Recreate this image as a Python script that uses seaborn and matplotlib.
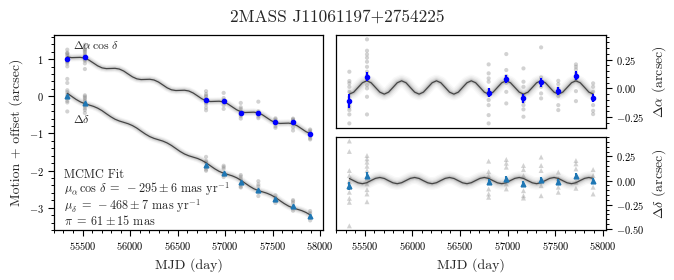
import numpy as np
import pandas as pd
import seaborn as sns
import matplotlib
matplotlib.use('Agg')
import matplotlib.pyplot as plt
from matplotlib.ticker import MultipleLocator

# Observation epochs (MJD)
epochs = [55340, 55525, 56800, 56985, 57165, 57350, 57530, 57715, 57895]

# Epoch means, left panel (motion + offset, arcsec)
ra_left_mean = [1.00, 1.06, -0.11, -0.13, -0.44, -0.45, -0.68, -0.70, -1.02]
dec_left_mean = [0.00, -0.18, -1.85, -2.07, -2.31, -2.52, -2.77, -2.95, -3.21]

# Epoch means and errors, right panels (residual, arcsec)
ra_res_mean = [-0.11, 0.10, -0.038, 0.078, -0.087, 0.052, -0.021, 0.11, -0.082]
ra_res_err = [0.06, 0.04, 0.04, 0.035, 0.04, 0.04, 0.035, 0.04, 0.035]
dec_res_mean = [-0.058, 0.052, -0.017, 0.018, -0.034, 0.010, -0.017, 0.052, -0.006]
dec_res_err = [0.04, 0.035, 0.03, 0.03, 0.03, 0.03, 0.03, 0.03, 0.03]

# Individual frames per epoch (residuals, arcsec)
ra_frames = [
    [0.145, 0.064, 0.044, 0.014, -0.03, -0.079, -0.117, -0.146, -0.166, -0.189, -0.227, -0.305],
    [0.427, 0.328, 0.296, 0.267, 0.232, 0.188, 0.145, 0.116, 0.078, 0.029, 0.0, -0.073, -0.227],
    [0.209, 0.131, 0.087, 0.058, -0.015, -0.058, -0.102, -0.146, -0.233, -0.305],
    [0.299, 0.16, 0.107, 0.049, -0.03, -0.131],
    [0.174, 0.058, 0.014, -0.058, -0.117, -0.146, -0.183, -0.247],
    [0.357, 0.096, 0.058, 0.014, -0.044, -0.087],
    [0.066, 0.037, 0.0, -0.067, -0.146, -0.189],
    [0.209, 0.188, 0.165, 0.131, 0.072, -0.024, -0.111],
    [0.044, 0.014, -0.03, -0.102, -0.146, -0.195, -0.224],
]
dec_frames = [
    [0.409, 0.301, 0.104, 0.052, -0.01, -0.068, -0.12, -0.183, -0.224, -0.467],
    [0.259, 0.225, 0.191, 0.149, 0.104, 0.018, -0.034, -0.093, -0.138, -0.218],
    [0.201, 0.093, 0.052, -0.086, -0.138, -0.172],
    [0.218, 0.18, 0.139, -0.034, -0.086],
    [0.156, 0.114, 0.052, -0.104, -0.156, -0.18],
    [0.243, 0.156, 0.104, -0.052, -0.156],
    [0.087, 0.018, -0.068, -0.12],
    [0.207, 0.173, 0.121, -0.017, -0.079],
    [0.114, 0.052, -0.068, -0.138],
]

# MCMC fit curve
fit_mjd = [55340, 55386, 55431, 55477, 55523, 55568, 55614, 55660, 55706, 55751,
           55797, 55842, 55888, 55934, 55979, 56025, 56071, 56116, 56162, 56208,
           56253, 56299, 56345, 56390, 56436, 56482, 56527, 56573, 56618, 56664,
           56710, 56755, 56801, 56847, 56892, 56938, 56984, 57029, 57075, 57121,
           57166, 57212, 57258, 57303, 57349, 57395, 57440, 57486, 57532, 57577,
           57623, 57669, 57714, 57760, 57806, 57851, 57897]
fit_ra_left = [1.060, 1.040, 1.044, 1.048, 1.028, 0.974, 0.897, 0.819, 0.765, 0.745,
               0.749, 0.753, 0.733, 0.679, 0.601, 0.524, 0.470, 0.450, 0.454, 0.458,
               0.438, 0.384, 0.306, 0.228, 0.174, 0.155, 0.159, 0.163, 0.143, 0.089,
               0.011, -0.067, -0.121, -0.141, -0.137, -0.133, -0.152, -0.206, -0.284, -0.362,
               -0.416, -0.436, -0.432, -0.428, -0.448, -0.502, -0.579, -0.657, -0.711, -0.731,
               -0.727, -0.723, -0.743, -0.797, -0.875, -0.953, -1.006]
fit_dec_left = [0.080, -0.002, -0.082, -0.150, -0.198, -0.234, -0.270, -0.320, -0.388, -0.470,
                -0.550, -0.618, -0.666, -0.702, -0.738, -0.788, -0.856, -0.938, -1.018, -1.086,
                -1.134, -1.170, -1.206, -1.256, -1.324, -1.406, -1.486, -1.554, -1.602, -1.638,
                -1.674, -1.724, -1.792, -1.874, -1.954, -2.022, -2.070, -2.106, -2.142, -2.192,
                -2.260, -2.342, -2.422, -2.490, -2.538, -2.574, -2.610, -2.660, -2.728, -2.810,
                -2.890, -2.958, -3.006, -3.042, -3.078, -3.128, -3.196]
fit_ra_res = [-0.050, -0.033, 0.008, 0.049, 0.066, 0.049, 0.008, -0.033,
              -0.050, -0.033, 0.008, 0.049, 0.066, 0.049, 0.008, -0.033,
              -0.050, -0.033, 0.008, 0.049, 0.066, 0.049, 0.008, -0.033,
              -0.050, -0.033, 0.008, 0.049, 0.066, 0.049, 0.008, -0.033,
              -0.050, -0.033, 0.008, 0.049, 0.066, 0.049, 0.008, -0.033,
              -0.050, -0.033, 0.008, 0.049, 0.066, 0.049, 0.008, -0.033,
              -0.050, -0.033, 0.008, 0.049, 0.066, 0.049, 0.008, -0.033, -0.050]
fit_dec_res = [0.022, -0.001, -0.023, -0.032, -0.022, 0.001, 0.023, 0.032,
               0.022, -0.001, -0.023, -0.032, -0.022, 0.001, 0.023, 0.032,
               0.022, -0.001, -0.023, -0.032, -0.022, 0.001, 0.023, 0.032,
               0.022, -0.001, -0.023, -0.032, -0.022, 0.001, 0.023, 0.032,
               0.022, -0.001, -0.023, -0.032, -0.022, 0.001, 0.023, 0.032,
               0.022, -0.001, -0.023, -0.032, -0.022, 0.001, 0.023, 0.032,
               0.022, -0.001, -0.023, -0.032, -0.022, 0.001, 0.023, 0.032, 0.022]

# Long tables of the individual frames
rows = []
for i, t in enumerate(epochs):
    for v in ra_frames[i]:
        rows.append(dict(mjd=t, coord='ra', res=v, left=ra_left_mean[i] + v - ra_res_mean[i]))
    for v in dec_frames[i]:
        rows.append(dict(mjd=t, coord='dec', res=v, left=dec_left_mean[i] + v - dec_res_mean[i]))
frames = pd.DataFrame(rows)
ra_df = frames[frames.coord == 'ra']
dec_df = frames[frames.coord == 'dec']

sns.set_theme(style='ticks')
plt.rcParams.update({
    'font.family': 'serif',
    'font.serif': ['cmr10'],
    'mathtext.fontset': 'cm',
    'axes.formatter.use_mathtext': True,
    'axes.edgecolor': 'black',
    'axes.linewidth': 0.9,
    'xtick.color': 'black',
    'ytick.color': 'black',
    'xtick.major.size': 4, 'ytick.major.size': 4,
    'xtick.minor.size': 2, 'ytick.minor.size': 2,
    'xtick.major.width': 0.8, 'ytick.major.width': 0.8,
    'xtick.minor.width': 0.7, 'ytick.minor.width': 0.7,
    'xtick.labelsize': 7.5, 'ytick.labelsize': 7.5,
})

fig = plt.figure(figsize=(6.74, 2.8), dpi=100)
ax_l = fig.add_axes([0.0801, 0.1786, 0.3991, 0.6964])
ax_ra = fig.add_axes([0.4985, 0.5429, 0.4006, 0.3321])
ax_dec = fig.add_axes([0.4985, 0.1786, 0.4006, 0.3321])


def draw_fit(ax, x, y, widths):
    # blurred band standing in for the overplotted MCMC samples
    for lw, a in widths:
        ax.plot(x, y, color='gray', lw=lw, alpha=a, solid_capstyle='butt')
    sns.lineplot(x=x, y=y, ax=ax, color='#454545', lw=0.9, sort=False)


band_l = [(5.5, 0.08), (4, 0.12), (2.6, 0.2)]
band_r = [(9, 0.05), (7, 0.07), (5, 0.1), (3.4, 0.16), (2.2, 0.22)]

# ---- left panel ----
sns.scatterplot(data=ra_df, x='mjd', y='left', ax=ax_l, color='gray', alpha=0.35,
                s=9, edgecolor='none', marker='o')
sns.scatterplot(data=dec_df, x='mjd', y='left', ax=ax_l, color='gray', alpha=0.35,
                s=9, edgecolor='none', marker='o')
draw_fit(ax_l, fit_mjd, fit_ra_left, band_l)
draw_fit(ax_l, fit_mjd, fit_dec_left, band_l)
ax_l.errorbar(epochs, ra_left_mean, yerr=ra_res_err, fmt='o', color='blue', ms=3,
              elinewidth=1.0, capsize=0, zorder=5)
ax_l.errorbar(epochs, dec_left_mean, yerr=dec_res_err, fmt='^', color='#1f77b4', ms=3.4,
              elinewidth=1.0, capsize=0, zorder=5)
ax_l.set_xlim(55200, 58030)
ax_l.set_ylim(-3.6, 1.65)
ax_l.xaxis.set_major_locator(MultipleLocator(500))
ax_l.xaxis.set_minor_locator(MultipleLocator(100))
ax_l.yaxis.set_major_locator(MultipleLocator(1))
ax_l.yaxis.set_minor_locator(MultipleLocator(0.2))
ax_l.tick_params(which='both', top=False, right=False)
ax_l.set_xlabel('MJD (day)', fontsize=10)
ax_l.set_ylabel('Motion + offset (arcsec)', fontsize=10)
ax_l.text(0.071, 0.949, r'$\Delta\alpha\,\cos\,\delta$', transform=ax_l.transAxes,
          fontsize=8.5, va='center')
ax_l.text(0.071, 0.568, r'$\Delta\delta$', transform=ax_l.transAxes,
          fontsize=8.5, va='center')
fit_text = '\n'.join([
    'MCMC Fit',
    r'$\mu_\alpha\,\cos\,\delta\;=\;-295 \pm 6$ mas yr$^{-1}$',
    r'$\mu_\delta\;=\;-468 \pm 7$ mas yr$^{-1}$',
    r'$\pi\;=\;61 \pm 15$ mas',
])
ax_l.text(0.037, 0.312, fit_text, transform=ax_l.transAxes, fontsize=8.8,
          va='top', ha='left', linespacing=0.9)

# ---- right panels ----
sns.scatterplot(data=ra_df, x='mjd', y='res', ax=ax_ra, color='gray', alpha=0.35,
                s=9, edgecolor='none', marker='o')
draw_fit(ax_ra, fit_mjd, fit_ra_res, band_r)
ax_ra.errorbar(epochs, ra_res_mean, yerr=ra_res_err, fmt='o', color='blue', ms=3,
               elinewidth=1.5, capsize=0, zorder=5)
ax_ra.set_ylim(-0.345, 0.465)

sns.scatterplot(data=dec_df, x='mjd', y='res', ax=ax_dec, color='gray', alpha=0.35,
                s=13, edgecolor='none', marker='^')
draw_fit(ax_dec, fit_mjd, fit_dec_res, band_r)
ax_dec.errorbar(epochs, dec_res_mean, yerr=dec_res_err, fmt='^', color='#1f77b4', ms=3.4,
                elinewidth=1.5, capsize=0, zorder=5)
ax_dec.set_ylim(-0.51, 0.45)

for ax, lab in [(ax_ra, r'$\Delta\alpha$ (arcsec)'), (ax_dec, r'$\Delta\delta$ (arcsec)')]:
    ax.set_xlim(55200, 58030)
    ax.xaxis.set_major_locator(MultipleLocator(500))
    ax.xaxis.set_minor_locator(MultipleLocator(100))
    ax.yaxis.set_major_locator(MultipleLocator(0.25))
    ax.yaxis.set_minor_locator(MultipleLocator(0.05))
    ax.yaxis.tick_right()
    ax.yaxis.set_label_position('right')
    ax.tick_params(which='both', left=False, top=False)
    ax.set_ylabel(lab, fontsize=10)

ax_ra.tick_params(which='both', bottom=False, labelbottom=False)
ax_ra.set_xlabel('')
ax_dec.set_xlabel('MJD (day)', fontsize=10)

fig.suptitle('2MASS J11061197+2754225', x=0.5, y=0.94, va='center', fontsize=12.5)

fig.savefig('out.png', dpi=100)
